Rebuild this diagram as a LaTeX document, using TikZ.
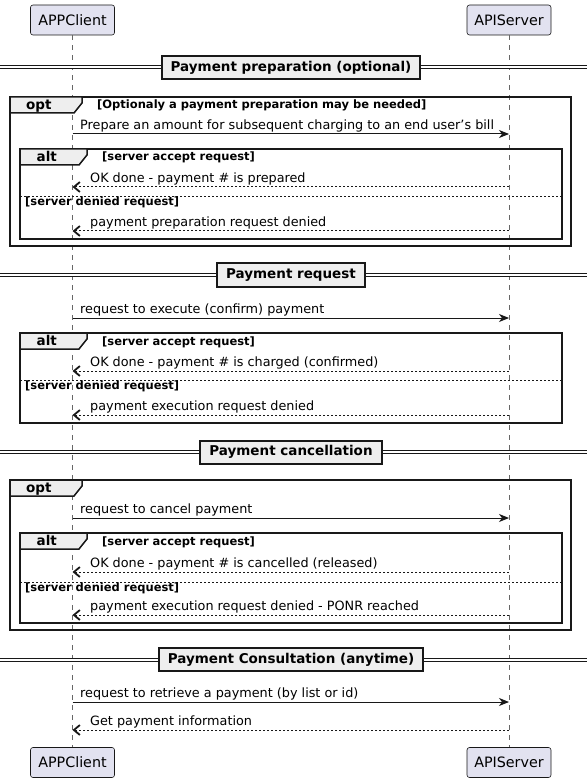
\documentclass[tikz,border=0pt]{standalone}
\usepackage{fontspec}
\setmainfont{DejaVu Sans}
\usetikzlibrary{arrows.meta,positioning,calc}
\definecolor{partfill}{HTML}{E2E2F0}
\definecolor{partline}{HTML}{181818}
\definecolor{tabfill}{HTML}{EEEEEE}
\newcommand{\fsz}[1]{\fontsize{#1}{#1}\selectfont}

\begin{document}
\begin{tikzpicture}
[x=1pt,y=-1pt,
part/.style={draw=partline,fill=partfill,rounded corners=2.5pt,line width=.6pt,
  minimum width=84pt,minimum height=30pt,inner sep=0pt,font=\fsz{14.3}},
lifeline/.style={draw=black!60,line width=.6pt,dash pattern=on 5pt off 5pt},
frame/.style={draw=black!90,line width=1.5pt},
tab/.style={draw=black!90,fill=tabfill,line width=1.5pt},
tablbl/.style={anchor=base,inner sep=0pt,font=\bfseries\fsz{13.5}},
guard/.style={anchor=base west,inner sep=0pt,font=\bfseries\fsz{11.5}},
divider/.style={draw=partline,line width=.8pt,dash pattern=on 2pt off 2pt},
sepline/.style={draw=partline,double,double distance=2pt,line width=1pt},
sepbox/.style={draw=partline,fill=tabfill,line width=2pt,minimum height=23pt,
  inner xsep=9pt,inner ysep=0pt,font=\bfseries\fsz{13.5}},
msg/.style={draw=partline,line width=1pt,-{Stealth[length=10pt,width=8pt,inset=3pt]}},
reply/.style={draw=partline,line width=1pt,dash pattern=on 2pt off 2pt,
  -{Straight Barb[length=6pt,width=10pt,line width=1.8pt]}},
msgtxt/.style={anchor=base west,inner sep=0pt,font=\fsz{12.8}}]
\useasboundingbox (0,0) rectangle (587,783);
%% participants
\node[part] (client) at (72.5,20) {APPClient};
\node[part] (server) at (509,20) {APIServer};
\node[part] (clientB) at (72.5,762.5) {APPClient};
\node[part] (serverB) at (509,762.5) {APIServer};
\draw[lifeline] (client) -- (clientB);
\draw[lifeline] (server) -- (serverB);
%% group frames
\draw[frame] (10,97) rectangle (571,246);
\draw[frame] (20,149) rectangle (562,239);
\draw[frame] (20,333) rectangle (562,423);
\draw[frame] (10,480) rectangle (571,630);
\draw[frame] (20,533) rectangle (562,623);
\foreach \x/\y/\w/\lbl in {10/97/72/opt,20/149/67/alt,20/333/67/alt,10/480/72/opt,20/533/67/alt}
{
\draw[tab] (\x,\y) -- ++(\w,0) -- ++(0,6) -- ++(-8,10) -- (\x,\y+16) -- cycle;
\node[tablbl] (tab\y) at (\x+0.4*\w,\y+12.5) {\lbl};
}
\foreach \y in {196,380,582}
\draw[divider] (20,\y) -- (562,\y);
%% guards
\node[guard] (g1) at (97,109) {[Optionaly a payment preparation may be needed]};
\foreach \y in {161,345,545}
\node[guard] (ok\y) at (102,\y) {[server accept request]};
\foreach \y in {206,389.5,591}
\node[guard] (no\y) at (25,\y) {[server denied request]};
%% separators
\foreach \y/\txt in {67.5/{Payment preparation (optional)},275/{Payment request},
  452/{Payment cancellation},659.5/{Payment Consultation (anytime)}}
{
\draw[sepline] (0,\y) -- (587,\y);
\node[sepbox] (sep\y) at (291,\y) {\txt};
}
%% calls
\foreach \y/\txt in {134/{Prepare an amount for subsequent charging to an end user’s bill},
  318/{request to execute (confirm) payment},518/{request to cancel payment},
  702/{request to retrieve a payment (by list or id)}}
{
\draw[msg] (client |- 0,\y) -- (server |- 0,\y);
\node[msgtxt] (call\y) at (80,\y-4.5) {\txt};
}
%% replies
\foreach \y/\txt in {187/{OK done - payment \# is prepared},231/{payment preparation request denied},
  371/{OK done - payment \# is charged (confirmed)},415/{payment execution request denied},
  572/{OK done - payment \# is cancelled (released)},
  615/{payment execution request denied - PONR reached},730/{Get payment information}}
{
\draw[reply] (server |- 0,\y) -- (client |- 0,\y);
\node[msgtxt] (ret\y) at (90,\y-4.5) {\txt};
}
\end{tikzpicture}
\end{document}
